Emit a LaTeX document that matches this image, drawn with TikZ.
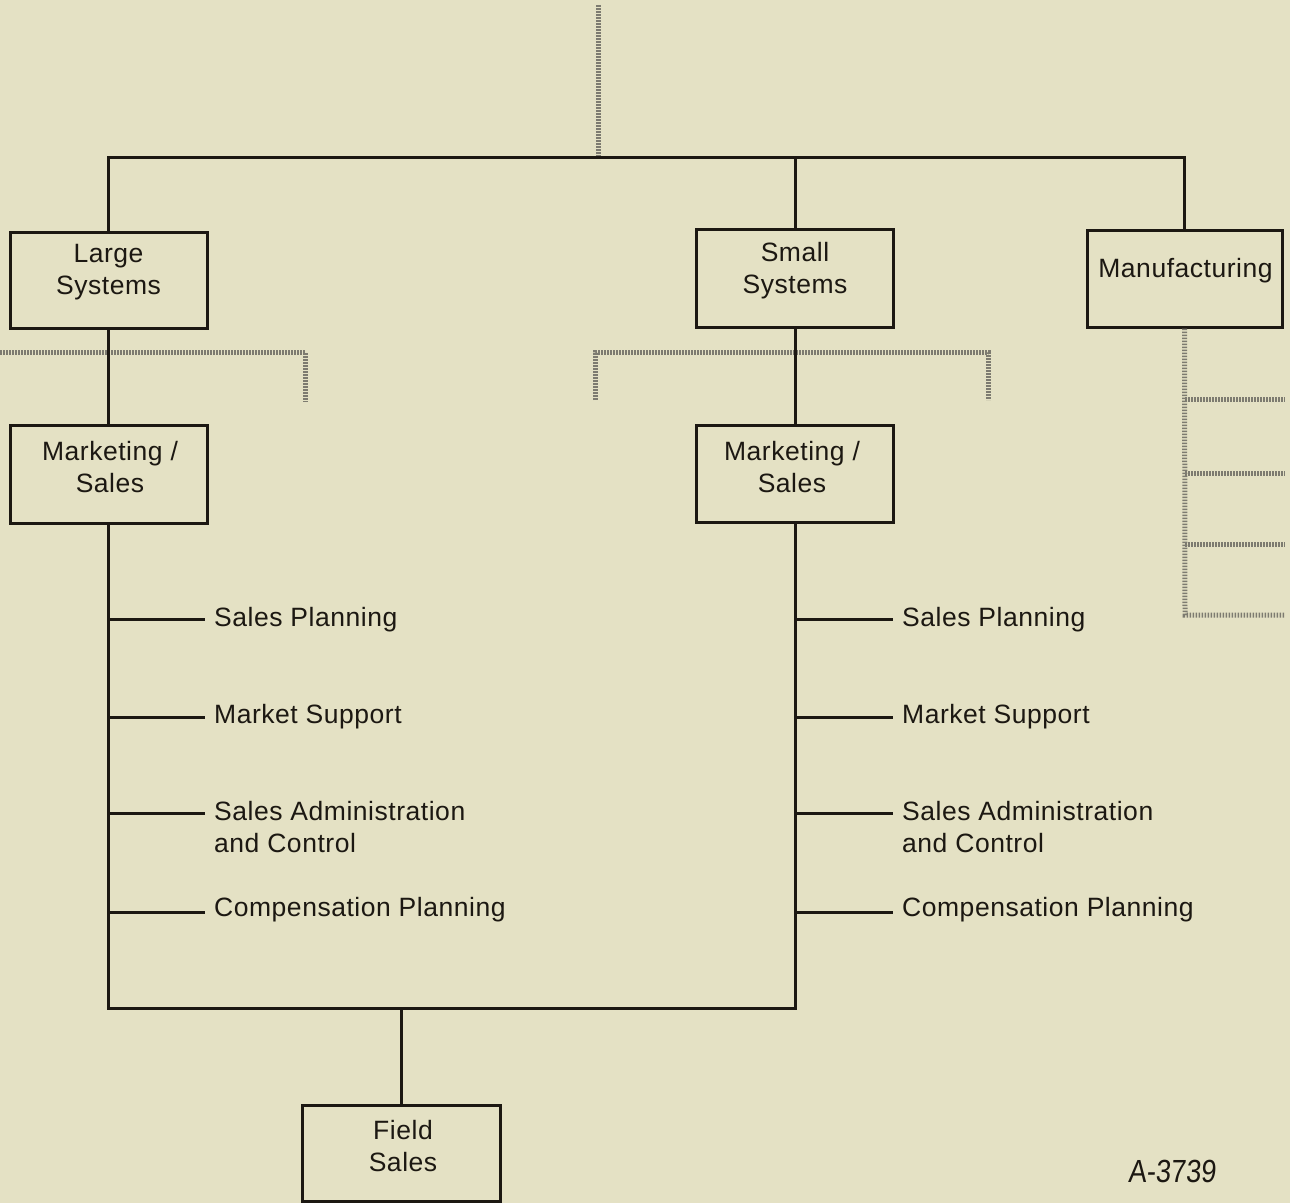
\documentclass[tikz,border=0pt]{standalone}
\usepackage{fontspec}
\setmainfont{Liberation Sans}[LetterSpace=2]
\newfontfamily\handfont[FakeStretch=0.85,FakeSlant=0.08]{Liberation Sans}
\usetikzlibrary{calc}
\definecolor{paper}{RGB}{228,225,196}
\definecolor{ink}{RGB}{28,24,18}
\definecolor{dither}{RGB}{125,123,112}

\begin{document}
\begin{tikzpicture}[x=1pt,y=-1pt,
  conn/.style={draw=ink,line width=3pt},
  box/.style={draw=ink,line width=3pt,minimum width=197pt,minimum height=96pt,inner sep=0pt},
  lbl/.style={text=ink,font=\fontsize{26.5}{32}\selectfont,align=center,inner sep=0pt},
  item/.style={text=ink,font=\fontsize{26.5}{32}\selectfont,align=left,inner xsep=9pt,inner ysep=0pt},
  ghost/.style={draw=dither,line width=5pt,dash pattern=on 1.6pt off 1.4pt}]

% page
\fill[paper] (0,0) rectangle (1290,1203);
\useasboundingbox (0,0) rectangle (1290,1203);

% boxes
\node[box] (ls) at (108.5,280) {};
\node[box,minimum height=98pt] (lm) at (108.5,474) {};
\node[box,minimum height=98pt] (ss) at (795,278) {};
\node[box,minimum height=97pt] (rm) at (795,473.5) {};
\node[box,minimum width=195pt,minimum height=97pt] (mf) at (1184.5,278.5) {};
\node[box,minimum width=198pt] (fs) at (401,1153) {};

% box labels
\node[lbl] (lsT) at (108.5,272) {Large\\Systems};
\node[lbl] (lmT) at (110,467) {Marketing /\\Sales};
\node[lbl] (ssT) at (795,270.5) {Small\\Systems};
\node[lbl] (rmT) at (792,467) {Marketing /\\Sales};
\node[lbl] (mfT) at (1185.5,270.2) {Manufacturing};
\node[lbl] (fsT) at (403,1146) {Field\\Sales};

% bus coordinates
\coordinate (topbus) at (0,157);
\coordinate (botbus) at (0,1008);

% grey dotted links
\coordinate (feed) at (598,5);
\draw[ghost] (feed) -- (feed |- topbus);
\coordinate (gl0) at (0,352);
\coordinate (gl1) at (305,352);
\coordinate (gl2) at (305,402);
\draw[ghost] (gl0) -- (gl1) -- (gl2);
\coordinate (gm0) at (595,400);
\coordinate (gm1) at (595,352);
\coordinate (gm2) at (988,352);
\coordinate (gm3) at (988,400);
\draw[ghost] (gm0) -- (gm1) -- (gm2) -- (gm3);
\coordinate (gr0) at (1185,615);
\coordinate (gr1) at (1285,615);
\draw[ghost] (mf.south) -- (gr0) -- (gr1);
\foreach \yy [count=\k] in {399,473,544}{
  \coordinate (ga\k) at (1185,\yy);
  \coordinate (gb\k) at (1285,\yy);
  \draw[ghost] (ga\k) -- (gb\k);
}

% solid connectors
\draw[conn] (ls.north) |- (topbus -| mf.north) -- (mf.north);
\draw[conn] (ss.north) -- (ss.north |- topbus);
\draw[conn] (ls.south) -- (lm.north);
\draw[conn] (ss.south) -- (rm.north);
\draw[conn] (lm.south) |- (botbus -| rm.south) -- (rm.south);
\draw[conn] (fs.north |- botbus) -- (fs.north);

% functions under each Marketing / Sales
\foreach \side/\xx/\tx in {L/107/205, R/795/893}{
  \node[item,anchor=base west] (\side sp) at (\tx,626) {Sales Planning};
  \node[item,anchor=base west] (\side ms) at (\tx,723) {Market Support};
  \node[item,anchor=north west] (\side sa) at (\tx,800.7) {Sales Administration\\and Control};
  \node[item,anchor=base west] (\side cp) at (\tx,916) {Compensation Planning};
  \coordinate (\side j1) at (\xx,619);
  \coordinate (\side j2) at (\xx,717);
  \coordinate (\side j3) at (\xx,813);
  \coordinate (\side j4) at (\xx,912);
  \draw[conn] (\side j1) -- (\side j1 -| \side sp.west);
  \draw[conn] (\side j2) -- (\side j2 -| \side ms.west);
  \draw[conn] (\side j3) -- (\side j3 -| \side sa.west);
  \draw[conn] (\side j4) -- (\side j4 -| \side cp.west);
}

% drawing number
\node[text=ink,font=\handfont\fontsize{32}{32}\selectfont,inner sep=0pt,anchor=base] (ref) at (1172,1182) {A-3739};
\end{tikzpicture}
\end{document}
